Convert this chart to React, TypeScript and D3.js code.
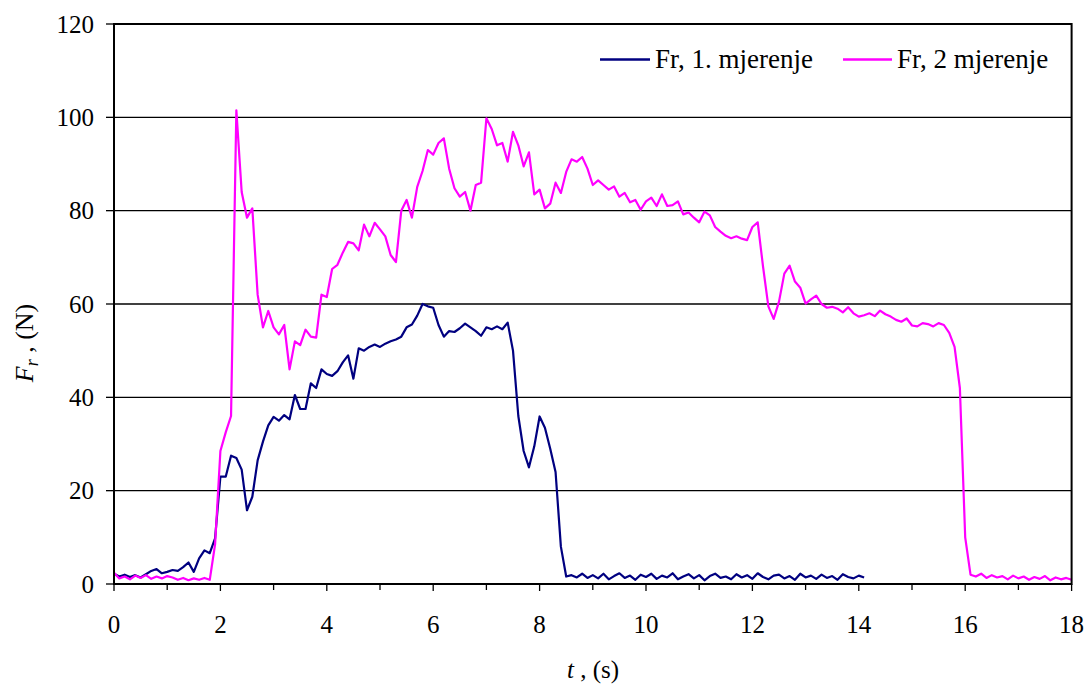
import React from 'react';
import * as d3 from 'd3';

// sampling step of the recorded signals, s
const STEP = 0.1;

// Fr, 1. mjerenje (N), one value every 0.1 s from 0 to 14.1 s
const blueValues = [
  2.2, 1.6, 2.0, 1.5, 1.9, 1.4, 2.1, 2.8, 3.2, 2.3,
  2.6, 3.0, 2.8, 3.6, 4.6, 2.6, 5.5, 7.2, 6.6, 9.8,
  23.0, 23.0, 27.5, 27.0, 24.5, 15.8, 18.7, 26.5, 30.5, 34.0,
  35.8, 35.0, 36.2, 35.3, 40.5, 37.5, 37.5, 43.0, 42.0, 46.0,
  45.0, 44.6, 45.6, 47.5, 49.0, 44.0, 50.5, 50.0, 50.8, 51.3,
  50.8, 51.5, 52.0, 52.4, 53.0, 55.0, 55.6, 57.5, 60.0, 59.5,
  59.2, 55.5, 53.0, 54.2, 54.0, 54.8, 55.8, 55.0, 54.2, 53.2,
  55.0, 54.6, 55.2, 54.6, 56.0, 50.0, 36.0, 28.5, 25.0, 29.5,
  35.9, 33.5, 29.0, 24.0, 8.0, 1.6, 1.9, 1.4, 2.2, 1.3,
  1.9, 1.2, 2.2, 1.0, 1.7, 2.3, 1.3, 1.8, 0.9, 2.0,
  1.5, 2.2, 1.1, 1.8, 1.4, 2.3, 1.0, 1.6, 2.1, 1.2,
  1.9, 0.8, 1.7, 2.2, 1.3, 1.6, 1.0, 2.1, 1.4, 1.9,
  1.1, 2.3, 1.5, 1.0, 1.8, 2.0, 1.2, 1.7, 0.9, 2.2,
  1.4, 1.8, 1.1, 2.0, 1.3, 1.7, 0.9, 2.1, 1.5, 1.2,
  1.8, 1.4
];

// Fr, 2 mjerenje (N), one value every 0.1 s from 0 to 18 s
const pinkValues = [
  2.4, 1.2, 1.6, 1.0, 1.8, 1.3, 1.9, 1.1, 1.6, 1.2,
  1.7, 1.4, 0.9, 1.3, 0.8, 1.2, 0.9, 1.3, 0.9, 8.5,
  28.5, 32.5, 36.0, 101.5, 84.0, 78.5, 80.5, 62.0, 55.0, 58.5,
  55.0, 53.5, 55.5, 46.0, 52.0, 51.2, 54.5, 53.0, 52.8, 62.0,
  61.5, 67.5, 68.4, 71.0, 73.3, 73.0, 71.5, 77.0, 74.5, 77.4,
  76.0, 74.5, 70.5, 69.0, 80.0, 82.3, 78.5, 85.1, 88.5, 93.0,
  92.0, 94.5, 95.5, 89.0, 84.8, 83.0, 84.0, 80.0, 85.5, 86.0,
  99.8, 97.5, 94.0, 94.5, 90.5, 96.9, 94.0, 89.5, 92.5, 83.5,
  84.5, 80.5, 81.5, 86.0, 83.8, 88.3, 91.0, 90.5, 91.5, 89.0,
  85.5, 86.5, 85.5, 84.5, 85.2, 83.0, 83.8, 81.8, 82.3, 80.2,
  82.0, 82.8, 81.0, 83.5, 81.0, 81.2, 82.0, 79.2, 79.6, 78.5,
  77.5, 79.8, 79.0, 76.5, 75.5, 74.6, 74.1, 74.5, 74.0, 73.7,
  76.5, 77.5, 68.0, 59.5, 56.8, 60.5, 66.5, 68.2, 64.8, 63.5,
  60.1, 61.0, 61.8, 60.0, 59.2, 59.4, 59.0, 58.2, 59.3, 58.0,
  57.3, 57.6, 58.0, 57.4, 58.6, 57.8, 57.3, 56.6, 56.2, 56.9,
  55.4, 55.2, 55.9, 55.7, 55.2, 55.9, 55.5, 53.8, 50.8, 42.0,
  10.0, 2.0, 1.6, 2.2, 1.3, 1.9, 1.4, 1.7, 1.0, 1.8,
  1.2, 1.6, 0.9, 1.5, 1.1, 1.7, 0.8, 1.4, 1.0, 1.3,
  0.9
];

const xTicks = [0, 2, 4, 6, 8, 10, 12, 14, 16, 18];
const xMinorTicks = [1, 3, 5, 7, 9, 11, 13, 15, 17];
const yTicks = [0, 20, 40, 60, 80, 100, 120];

const seriesNames = ['Fr, 1. mjerenje', 'Fr, 2 mjerenje'];
const seriesColors = ['#000080', '#FF00FF'];

const WIDTH = 1087;
const HEIGHT = 684;
const plot = { left: 114, right: 1071.6, top: 24, bottom: 584 };
const FONT = "'Liberation Serif', 'Times New Roman', serif";

export default function App() {
  const xScale = d3.scaleLinear().domain([0, 18]).range([plot.left, plot.right]);
  const yScale = d3.scaleLinear().domain([0, 120]).range([plot.bottom, plot.top]);

  const line = d3
    .line<number>()
    .x((_, i) => xScale(i * STEP))
    .y(d => yScale(d))
    .curve(d3.curveLinear);

  const series = [blueValues, pinkValues];

  return (
    <svg
      width={WIDTH}
      height={HEIGHT}
      style={{ position: 'absolute', left: 0, top: 0, background: '#fff' }}
      fontFamily={FONT}
    >
      {/* grid */}
      {yTicks
        .filter(d => d > 0 && d < 120)
        .map(d => (
          <line
            key={d}
            x1={plot.left}
            x2={plot.right}
            y1={yScale(d)}
            y2={yScale(d)}
            stroke="#000"
            strokeWidth={1.3}
          />
        ))}

      {/* y axis */}
      <g>
        {yTicks.map(d => (
          <g key={d} transform={`translate(0,${yScale(d)})`}>
            <line x1={plot.left - 8} x2={plot.left} stroke="#000" strokeWidth={1.3} />
            <text x={plot.left - 20} y={8.5} fontSize={25} textAnchor="end" fill="#000">
              {d}
            </text>
          </g>
        ))}
      </g>

      {/* x axis */}
      <g>
        {xTicks.map(d => (
          <g key={d} transform={`translate(${xScale(d)},0)`}>
            <line y1={plot.bottom} y2={plot.bottom + 7} stroke="#000" strokeWidth={1.3} />
            <text y={633} fontSize={25} textAnchor="middle" fill="#000">
              {d}
            </text>
          </g>
        ))}
        {xMinorTicks.map(d => (
          <line
            key={d}
            x1={xScale(d)}
            x2={xScale(d)}
            y1={plot.bottom}
            y2={plot.bottom + 6}
            stroke="#000"
            strokeWidth={1.3}
          />
        ))}
      </g>

      {/* data */}
      {series.map((s, i) => (
        <path
          key={i}
          d={line(s) || ''}
          fill="none"
          stroke={seriesColors[i]}
          strokeWidth={2.2}
          strokeLinejoin="round"
        />
      ))}

      {/* frame */}
      <rect
        x={plot.left}
        y={plot.top}
        width={plot.right - plot.left}
        height={plot.bottom - plot.top}
        fill="none"
        stroke="#000"
        strokeWidth={2}
      />

      {/* legend */}
      <g fontSize={27} fill="#000">
        <line x1={600} x2={650} y1={59.5} y2={59.5} stroke={seriesColors[0]} strokeWidth={2.5} />
        <text x={655} y={68}>{seriesNames[0]}</text>
        <line x1={843} x2={892} y1={59.5} y2={59.5} stroke={seriesColors[1]} strokeWidth={2.5} />
        <text x={897} y={68}>{seriesNames[1]}</text>
      </g>

      {/* axis titles */}
      <text x={593} y={678} fontSize={25} textAnchor="middle" fill="#000">
        <tspan fontStyle="italic">t</tspan>
        <tspan> , (s)</tspan>
      </text>
      <text
        transform="translate(33,343) rotate(-90)"
        fontSize={26}
        textAnchor="middle"
        fill="#000"
      >
        <tspan fontStyle="italic">F</tspan>
        <tspan fontStyle="italic" fontSize={18} dy={5}>r</tspan>
        <tspan dy={-5}> , (N)</tspan>
      </text>
    </svg>
  );
}
